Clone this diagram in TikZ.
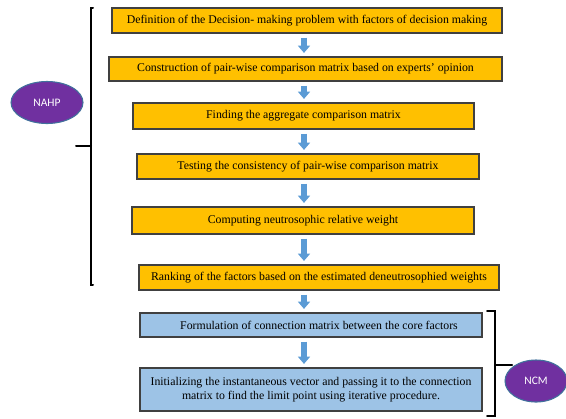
\documentclass[tikz,border=0pt]{standalone}
\usepackage{fontspec}
\setmainfont{Liberation Serif}
\newfontfamily\labelfont{Carlito}
\usetikzlibrary{arrows.meta,shapes.geometric}

\definecolor{stepyellow}{RGB}{255,192,0}
\definecolor{stepblue}{RGB}{157,195,230}
\definecolor{stepedge}{RGB}{64,64,64}
\definecolor{arrowblue}{RGB}{91,155,213}
\definecolor{methodpurple}{RGB}{112,48,160}
\definecolor{methodedge}{RGB}{65,113,156}

\tikzset{
	stepbox/.style={draw=stepedge, line width=1.1pt, inner sep=0pt, align=center, font=\fontsize{8.85}{10.6}\selectfont},
	ahpstep/.style={stepbox, fill=stepyellow},
	ncmstep/.style={stepbox, fill=stepblue},
	flowarrow/.style={draw=arrowblue, line width=4.5pt, -{Triangle[width=9pt,length=5.5pt]}, shorten <=3pt, shorten >=2.5pt},
	methodtag/.style={ellipse, draw=methodedge, line width=0.8pt, fill=methodpurple, inner sep=0pt, text=white, font=\labelfont\fontsize{8.6}{10}\selectfont},
	bracket/.style={line width=1.5pt, line cap=round}}
\tikzset{every picture/.style={line width=0.75pt}}

\begin{document}
\begin{tikzpicture}[x=0.75pt,y=0.75pt,yscale=-1,xscale=1]
	\useasboundingbox (0,0) rectangle (566,418);
	
	%column of the arrows
	\coordinate (col) at (304,0);
	
	%NAHP steps
	\node [ahpstep, minimum width=292.5pt, minimum height=18.75pt] (def) at (307,20.5) {Definition of the Decision- making problem with factors of decision making};
	\node [ahpstep, minimum width=294.75pt, minimum height=18pt] (pair) at (305.5,69) {Construction of pair-wise comparison matrix based on experts' opinion};
	\node [ahpstep, minimum width=255.75pt, minimum height=19.5pt] (aggr) at (303.5,116) {Finding the aggregate comparison matrix};
	\node [ahpstep, minimum width=256.5pt, minimum height=18.75pt] (cons) at (308,166.5) {Testing the consistency of pair-wise comparison matrix};
	\node [ahpstep, minimum width=256.5pt, minimum height=20.25pt] (wght) at (303,220.5) {Computing neutrosophic relative weight};
	\node [ahpstep, minimum width=270pt, minimum height=18.75pt] (rank) at (319,277.5) {Ranking of the factors based on the estimated deneutrosophied weights};
	
	%NCM steps
	\node [ncmstep, minimum width=256.5pt, minimum height=18pt] (conn) at (311,325) {\hspace{12pt}Formulation of connection matrix between the core factors};
	\node [ncmstep, minimum width=256.5pt, minimum height=32.25pt] (init) at (311,389.5) {Initializing the instantaneous vector and passing it to the connection\\matrix to find the limit point using iterative procedure.};
	
	%arrows
	\draw [flowarrow] (def.south -| col) -- (pair.north -| col);
	\draw [flowarrow] (pair.south -| col) -- (aggr.north -| col);
	\draw [flowarrow] (aggr.south -| col) -- (cons.north -| col);
	\draw [flowarrow] (cons.south -| col) -- (wght.north -| col);
	\draw [flowarrow] (wght.south -| col) -- (rank.north -| col);
	\draw [flowarrow] (rank.south -| col) -- (conn.north -| col);
	\draw [flowarrow] (conn.south -| col) -- (init.north -| col);
	
	%brackets
	\draw [bracket] (93,8) -- (91,8) -- (91,285) -- (93,285);
	\draw [bracket] (91,146) -- (76,146);
	\draw [bracket] (487,311) -- (495,311) -- (495,416) -- (487,416);
	\draw [bracket] (495,365) -- (512,365);
	
	%method labels
	\node [methodtag, minimum width=54pt, minimum height=31.5pt] (nahp) at (47,102.5) {NAHP};
	\node [methodtag, minimum width=46.5pt, minimum height=31.5pt] (ncm) at (536,381) {NCM};
	
\end{tikzpicture}
\end{document}
